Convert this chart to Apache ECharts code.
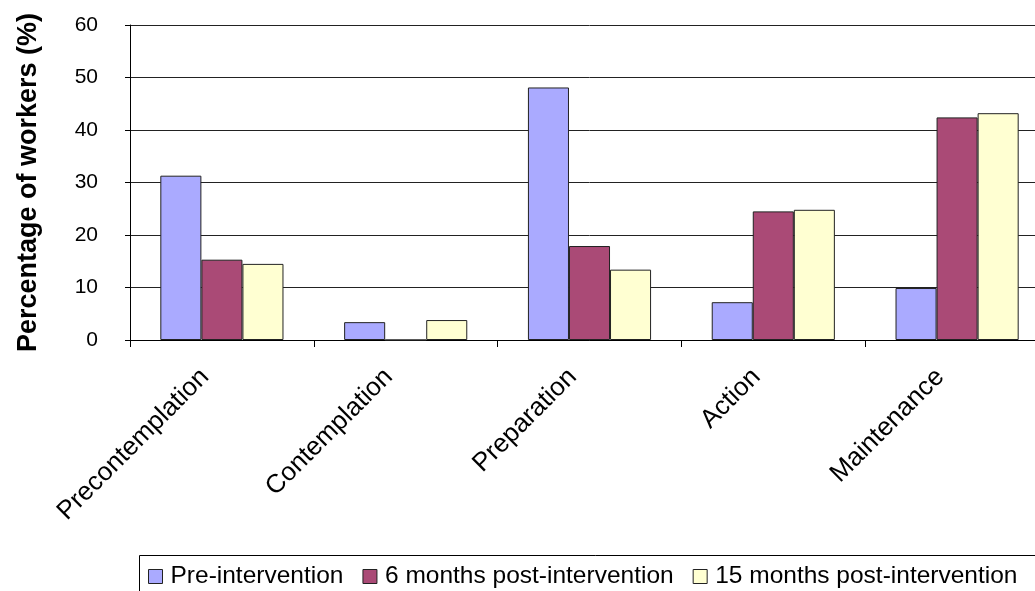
<!DOCTYPE html>
<html>
<head>
<meta charset="utf-8">
<script src="https://cdn.jsdelivr.net/npm/echarts@6/dist/echarts.min.js"></script>
<style>
  html, body { margin: 0; padding: 0; background: #fff; overflow: hidden; }
  /* plot area runs past the right edge of the picture, so the canvas is a bit wider */
  #chart { width: 1050px; height: 591px; }
</style>
</head>
<body>
<div id="chart"></div>
<script>
// stages of change
const stages = ['Precontemplation', 'Contemplation', 'Preparation', 'Action', 'Maintenance'];
const seriesNames = ['Pre-intervention', '6 months post-intervention', '15 months post-intervention'];
const preIntervention = [31.3, 3.4, 48.1, 7.2, 9.9];
const sixMonths = [15.3, 0, 17.9, 24.5, 42.4];
const fifteenMonths = [14.5, 3.8, 13.4, 24.8, 43.2];
const barColors = ['#aaaaff', '#aa4a76', '#ffffd2'];

const font = 'Arial, "Liberation Sans", sans-serif';
const chart = echarts.init(document.getElementById('chart'));

const allValues = [preIntervention, sixMonths, fifteenMonths];

chart.setOption({
    animation: false,
    grid: {
        left: 130,
        top: 25,
        right: 1,
        bottom: 251,
        containLabel: false
    },
    legend: {
        left: 148,
        top: 564,
        padding: 0,
        itemWidth: 14,
        itemHeight: 14,
        itemGap: 19,
        icon: 'rect',
        textStyle: { fontFamily: font, fontSize: 24.5, color: '#000', padding: [0, 0, 0, 3] },
        itemStyle: { borderColor: '#222', borderWidth: 1 },
        data: seriesNames
    },
    graphic: [{
        type: 'rect',
        shape: { x: 139.5, y: 555.5, width: 1000, height: 100 },
        style: { fill: 'none', stroke: '#000', lineWidth: 1 },
        silent: true
    }],
    xAxis: {
        type: 'category',
        data: stages,
        axisLine: { lineStyle: { color: '#000', width: 1 } },
        axisTick: { show: true, length: 7, lineStyle: { color: '#000' } },
        axisLabel: {
            rotate: 45,
            margin: 16,
            padding: [0, 24, 0, 0],
            interval: 0,
            fontFamily: font,
            fontSize: 26,
            color: '#000'
        }
    },
    yAxis: {
        type: 'value',
        min: 0,
        max: 60,
        interval: 10,
        name: 'Percentage of workers (%)',
        nameLocation: 'middle',
        nameGap: 88,
        nameTextStyle: { fontFamily: font, fontSize: 27, fontWeight: 'bold', color: '#000' },
        axisLine: { show: true, lineStyle: { color: '#000', width: 1 } },
        axisTick: { show: true, length: 5, lineStyle: { color: '#000' } },
        axisLabel: { margin: 32, fontFamily: font, fontSize: 21, color: '#000' },
        splitLine: { show: true, lineStyle: { color: '#222', width: 1 } }
    },
    series: seriesNames.map((name, i) => ({
        name: name,
        type: 'bar',
        data: allValues[i],
        barGap: '0%',
        barCategoryGap: '33%',
        itemStyle: { color: barColors[i], borderColor: '#222', borderWidth: 1 }
    }))
});
</script>
</body>
</html>
